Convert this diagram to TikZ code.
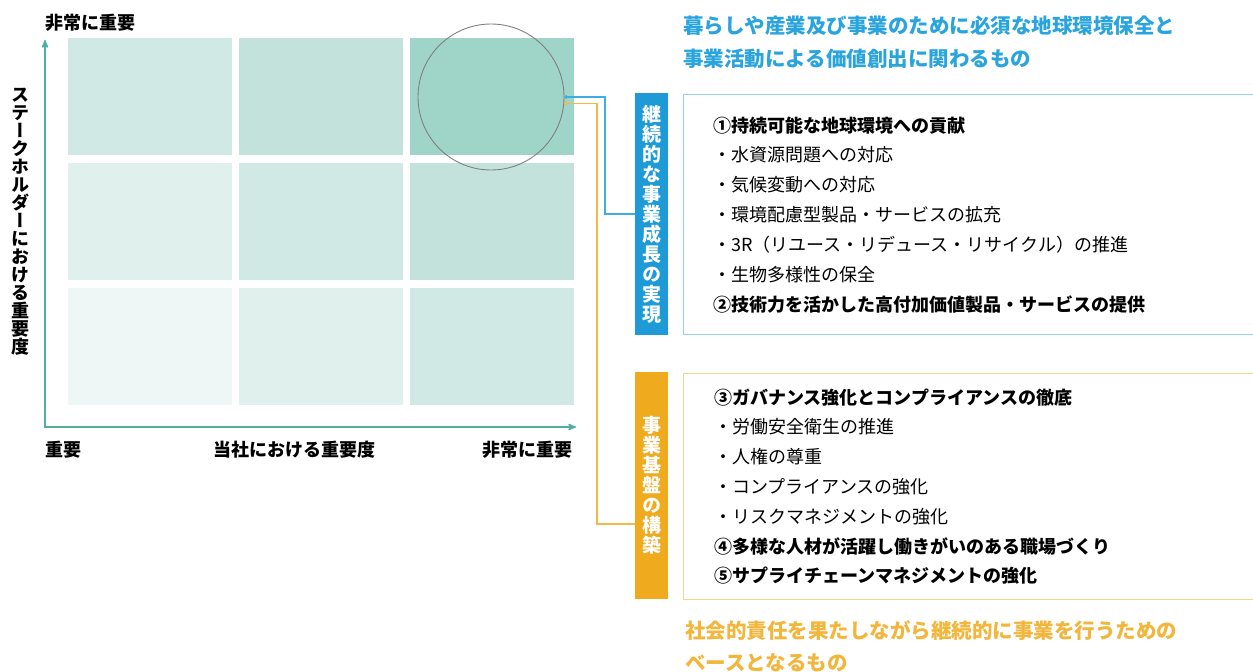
\documentclass[tikz,border=0pt]{standalone}
\usepackage{fontspec}
\setmainfont{Noto Sans CJK JP}
\newfontfamily\tatefont[RawFeature=+vert]{Noto Sans CJK JP}
\usetikzlibrary{arrows,arrows.meta,positioning,calc}

\definecolor{axisteal}{HTML}{4FAFA3}
\definecolor{cellA}{HTML}{9FD4C9}
\definecolor{cellB}{HTML}{C3E2DC}
\definecolor{cellC}{HTML}{D0E9E4}
\definecolor{cellD}{HTML}{E0F0ED}
\definecolor{cellE}{HTML}{EEF7F5}
\definecolor{sky}{HTML}{1E9BD7}
\definecolor{skyline}{HTML}{3DAEE3}
\definecolor{skyframe}{HTML}{95D0EC}
\definecolor{skytext}{HTML}{2AA4DD}
\definecolor{gold}{HTML}{F0AA1E}
\definecolor{goldline}{HTML}{F2B947}
\definecolor{goldframe}{HTML}{F4D58A}
\definecolor{goldtext}{HTML}{F2B63C}

\begin{document}
\begin{tikzpicture}[x=1pt, y=-1pt, >=stealth', semithick,
    cell/.style={rectangle, anchor=north west, inner sep=0pt, minimum width=164pt, minimum height=117pt},
    axislbl/.style={font=\fontsize{18}{18}\selectfont\bfseries, inner sep=0pt},
    listitem/.style={font=\fontsize{18}{18}\selectfont, inner sep=0pt, text height=14pt, text depth=4pt},
    listhead/.style={listitem, font=\fontsize{18}{18}\selectfont\bfseries},
    headline/.style={font=\fontsize{20.5}{20.5}\selectfont\bfseries, inner sep=0pt, text height=16pt, text depth=4.5pt},
    tagbox/.style={rectangle, inner sep=0pt, minimum width=33pt, text=white, align=center,
                   font=\fontsize{19}{20}\selectfont\bfseries\tatefont},
    framebox/.style={rectangle, anchor=north west, line width=1.2pt, minimum width=580pt}]
    \useasboundingbox (0,0) rectangle (1253,672);

    % matrix cells
    \node[cell, fill=cellC] (c11) at (68,38)   {};
    \node[cell, fill=cellB] (c12) at (239,38)  {};
    \node[cell, fill=cellA] (c13) at (410,38)  {};
    \node[cell, fill=cellD] (c21) at (68,163)  {};
    \node[cell, fill=cellC] (c22) at (239,163) {};
    \node[cell, fill=cellB] (c23) at (410,163) {};
    \node[cell, fill=cellE] (c31) at (68,288)  {};
    \node[cell, fill=cellD] (c32) at (239,288) {};
    \node[cell, fill=cellC] (c33) at (410,288) {};

    \node[circle, draw=gray, line width=0.9pt, minimum size=146pt, inner sep=0pt] (circ) at (491,97) {};

    % axes
    \coordinate (ytip) at (45,40);
    \coordinate (xtip) at (576,427);
    \draw[axisteal, line width=1.6pt, <->] (ytip) |- (xtip);

    \node[axislbl, anchor=west] (ytop)  at (45,23)  {非常に重要};
    \node[axislbl, anchor=west] (xlow)  at (45,450) {重要};
    \node[axislbl]              (xname) at (294,450) {当社における重要度};
    \node[axislbl, anchor=east] (xhigh) at (573,450) {非常に重要};
    \node[axislbl, align=center, font=\fontsize{18}{18}\selectfont\bfseries\tatefont] (yname) at (20,221.5)
        {ス\\テ\\ー\\ク\\ホ\\ル\\ダ\\ー\\に\\お\\け\\る\\重\\要\\度};

    % blue group
    \node[headline, text=skytext, anchor=west] (bh1) at (683,28) {暮らしや産業及び事業のために必須な地球環境保全と};
    \node[headline, text=skytext, below right=11.5pt and 0pt of bh1.south west] (bh2) {事業活動による価値創出に関わるもの};

    \node[tagbox, fill=sky, minimum height=242pt] (btag) at (651.5,214)
        {継\\続\\的\\な\\事\\業\\成\\長\\の\\実\\現};
    \node[framebox, draw=skyframe, minimum height=240pt] (bframe) at (683,94) {};

    \node[listhead, anchor=west] (b1) at (713,127) {①持続可能な地球環境への貢献};
    \node[listitem, below right=11.3pt and 0pt of b1.south west] (b2) {・水資源問題への対応};
    \node[listitem, below right=11.3pt and 0pt of b2.south west] (b3) {・気候変動への対応};
    \node[listitem, below right=11.3pt and 0pt of b3.south west] (b4) {・環境配慮型製品・サービスの拡充};
    \node[listitem, below right=11.3pt and 0pt of b4.south west] (b5) {・3R（リユース・リデュース・リサイクル）の推進};
    \node[listitem, below right=11.3pt and 0pt of b5.south west] (b6) {・生物多様性の保全};
    \node[listhead, below right=11.3pt and 0pt of b6.south west] (b7) {②技術力を活かした高付加価値製品・サービスの提供};

    % orange group
    \node[tagbox, fill=gold, minimum height=227pt] (otag) at (651.5,485.5)
        {事\\業\\基\\盤\\の\\構\\築};
    \node[framebox, draw=goldframe, minimum height=226pt] (oframe) at (683,373) {};

    \node[listhead, anchor=west] (o1) at (714,399) {③ガバナンス強化とコンプライアンスの徹底};
    \node[listitem, below right=11.2pt and 0pt of o1.south west] (o2) {・労働安全衛生の推進};
    \node[listitem, below right=11.2pt and 0pt of o2.south west] (o3) {・人権の尊重};
    \node[listitem, below right=11.2pt and 0pt of o3.south west] (o4) {・コンプライアンスの強化};
    \node[listitem, below right=11.2pt and 0pt of o4.south west] (o5) {・リスクマネジメントの強化};
    \node[listhead, below right=11.2pt and 0pt of o5.south west] (o6) {④多様な人材が活躍し働きがいのある職場づくり};
    \node[listhead, below right=11.2pt and 0pt of o6.south west] (o7) {⑤サプライチェーンマネジメントの強化};

    \node[headline, text=goldtext, anchor=west] (oh1) at (685,633) {社会的責任を果たしながら継続的に事業を行うための};
    \node[headline, text=goldtext, below right=10.5pt and 0pt of oh1.south west] (oh2) {ベースとなるもの};

    % connectors
    \coordinate (bturn) at (605,150);
    \draw[skyline, line width=1.1pt, {Circle[length=3.5pt]}-] (circ.east) -| (bturn) |- (btag.west);
    \coordinate (oturn) at (597,524);
    \draw[goldline, line width=1.1pt, {Circle[length=3.5pt]}-] (circ.-5.5) -| (oturn) -- (otag.west |- oturn);
\end{tikzpicture}
\end{document}
